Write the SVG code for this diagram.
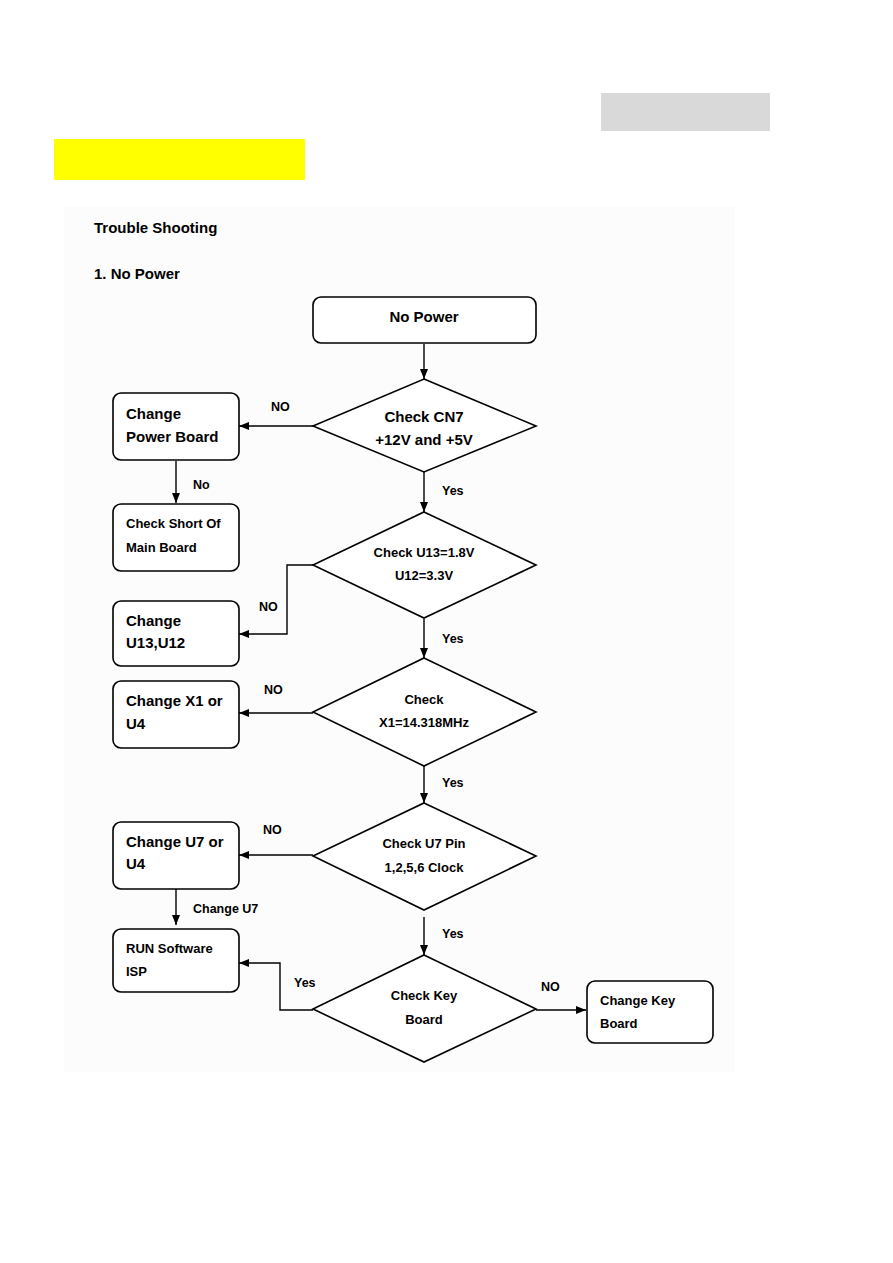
<svg xmlns="http://www.w3.org/2000/svg" width="893" height="1263" viewBox="0 0 893 1263">
<style>
.t{font-family:"Liberation Sans",Arial,sans-serif;font-weight:bold;fill:#000}
.b{font-size:15px}
.s{font-size:13px}
.l{font-size:12.5px}
.c{text-anchor:middle}
.box{fill:#fff;stroke:#000;stroke-width:1.6}
.dia{fill:#fff;stroke:#000;stroke-width:1.6}
.ln{fill:none;stroke:#000;stroke-width:1.4;marker-end:url(#ah)}
</style>
<defs>
<marker id="ah" viewBox="0 0 10 8" refX="10" refY="4" markerWidth="10" markerHeight="8" markerUnits="userSpaceOnUse" orient="auto">
<path d="M0,0 L10,4 L0,8 Z" fill="#000"/>
</marker>
</defs>
<rect x="0" y="0" width="893" height="1263" fill="#fff"/>
<rect x="601" y="93" width="169" height="38" fill="#d9d9d9"/>
<rect x="54" y="139" width="251" height="41" fill="#ffff00"/>
<rect x="64" y="207" width="671" height="865" fill="#fcfcfc"/>
<text class="t b" x="94" y="233">Trouble Shooting</text>
<text class="t b" x="94" y="279">1. No Power</text>

<g id="connectors">
<line class="ln" x1="424" y1="344" x2="424" y2="379"/>
<line class="ln" x1="313" y1="426" x2="239" y2="426"/>
<line class="ln" x1="176" y1="461" x2="176" y2="503"/>
<line class="ln" x1="424" y1="472" x2="424" y2="512"/>
<polyline class="ln" points="313,565 287,565 287,634 239,634"/>
<line class="ln" x1="424" y1="619" x2="424" y2="658"/>
<line class="ln" x1="313" y1="713" x2="239" y2="713"/>
<line class="ln" x1="424" y1="766" x2="424" y2="803"/>
<line class="ln" x1="313" y1="855" x2="239" y2="855"/>
<line class="ln" x1="176" y1="889" x2="176" y2="925"/>
<line class="ln" x1="424" y1="917" x2="424" y2="955"/>
<polyline class="ln" points="313,1010 280,1010 280,963 239,963"/>
<line class="ln" x1="536" y1="1010" x2="586" y2="1010"/>
<text class="t l" x="271" y="411">NO</text>
<text class="t l" x="193" y="489">No</text>
<text class="t l" x="442" y="495">Yes</text>
<text class="t l" x="259" y="611">NO</text>
<text class="t l" x="442" y="643">Yes</text>
<text class="t l" x="264" y="694">NO</text>
<text class="t l" x="442" y="787">Yes</text>
<text class="t l" x="263" y="834">NO</text>
<text class="t l" x="193" y="913">Change U7</text>
<text class="t l" x="442" y="938">Yes</text>
<text class="t l" x="294" y="987">Yes</text>
<text class="t l" x="541" y="991">NO</text>
</g>

<g id="n-nopower">
<rect class="box" x="313" y="297" width="223" height="46" rx="8"/>
<text class="t b c" x="424" y="322">No Power</text>
</g>
<g id="n-cn7">
<polygon class="dia" points="424,379 536,426 424,472 313,426"/>
<text class="t b c" x="424" y="422">Check CN7</text>
<text class="t b c" x="424" y="445">+12V and +5V</text>
</g>
<g id="n-powerboard">
<rect class="box" x="113" y="393" width="126" height="67" rx="8"/>
<text class="t b" x="126" y="419">Change</text>
<text class="t b" x="126" y="442">Power Board</text>
</g>
<g id="n-short">
<rect class="box" x="113" y="504" width="126" height="67" rx="8"/>
<text class="t s" x="126" y="528">Check Short Of</text>
<text class="t s" x="126" y="552">Main Board</text>
</g>
<g id="n-u13">
<polygon class="dia" points="424,512 536,565 424,618 313,565"/>
<text class="t s c" x="424" y="557">Check U13=1.8V</text>
<text class="t s c" x="424" y="580">U12=3.3V</text>
</g>
<g id="n-changeu13">
<rect class="box" x="113" y="601" width="126" height="65" rx="8"/>
<text class="t b" x="126" y="626">Change</text>
<text class="t b" x="126" y="648">U13,U12</text>
</g>
<g id="n-x1">
<polygon class="dia" points="424,658 536,712 424,766 313,712"/>
<text class="t s c" x="424" y="704">Check</text>
<text class="t s c" x="424" y="727">X1=14.318MHz</text>
</g>
<g id="n-changex1">
<rect class="box" x="113" y="681" width="126" height="67" rx="8"/>
<text class="t b" x="126" y="706">Change X1 or</text>
<text class="t b" x="126" y="729">U4</text>
</g>
<g id="n-u7">
<polygon class="dia" points="424,803 536,856 424,910 313,856"/>
<text class="t s c" x="424" y="848">Check U7 Pin</text>
<text class="t s c" x="424" y="872">1,2,5,6 Clock</text>
</g>
<g id="n-changeu7">
<rect class="box" x="113" y="822" width="126" height="67" rx="8"/>
<text class="t b" x="126" y="847">Change U7 or</text>
<text class="t b" x="126" y="869">U4</text>
</g>
<g id="n-isp">
<rect class="box" x="113" y="929" width="126" height="63" rx="8"/>
<text class="t s" x="126" y="953">RUN Software</text>
<text class="t s" x="126" y="976">ISP</text>
</g>
<g id="n-key">
<polygon class="dia" points="424,955 536,1009 424,1062 313,1009"/>
<text class="t s c" x="424" y="1000">Check Key</text>
<text class="t s c" x="424" y="1024">Board</text>
</g>
<g id="n-changekey">
<rect class="box" x="587" y="981" width="126" height="62" rx="8"/>
<text class="t s" x="600" y="1005">Change Key</text>
<text class="t s" x="600" y="1028">Board</text>
</g>
</svg>
